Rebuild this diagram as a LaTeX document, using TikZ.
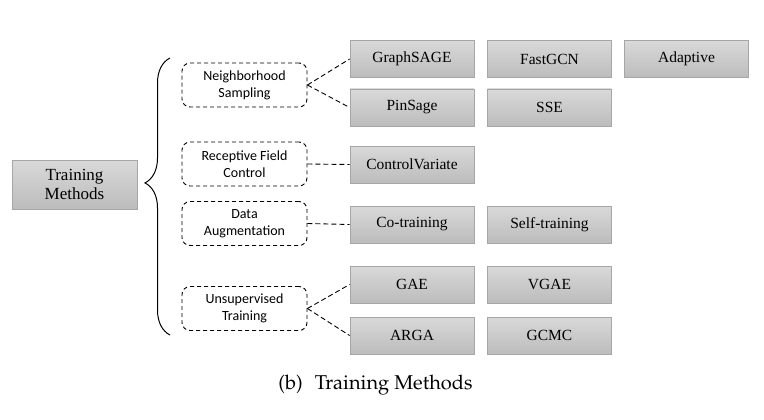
\documentclass[tikz,border=0pt]{standalone}
\usepackage{fontspec}
\setmainfont{Liberation Serif}
\newfontfamily\calibri{Carlito}
\usetikzlibrary{shapes,shadings}
\usetikzlibrary{decorations.pathreplacing,calc}
\definecolor{boxtop}{HTML}{D9D9D9}
\definecolor{boxbot}{HTML}{BCBCBC}
\definecolor{boxline}{HTML}{A6A6A6}
\tikzstyle{method}=[rectangle,draw=boxline,line width=0.8pt,top color=boxtop,bottom color=boxbot,minimum width=124pt,minimum height=37pt,inner sep=0pt,font=\fontsize{15.5}{18}\selectfont]
\tikzstyle{root}=[method,minimum width=125pt,minimum height=49pt,align=center,font=\fontsize{17}{19}\selectfont]
\tikzstyle{category}=[rectangle,rounded corners=8pt,draw,line width=0.9pt,dash pattern=on 4pt off 3pt,minimum width=125pt,minimum height=44pt,inner sep=0pt,align=center,font=\calibri\fontsize{14}{17}\selectfont]
\tikzstyle{link}=[line width=0.9pt,dash pattern=on 5pt off 3pt]

\begin{document}
\begin{tikzpicture}[x=1pt, y=-1pt]

    \useasboundingbox (0,0) rectangle (764,420);

    \node[root] (train) at (74.5,184.5) {Training\\Methods};

    % categories
    \foreach \pos/\name/\txt in {{(244.5,85)/ns/Neighborhood\\Sampling}, {(244.5,164)/rf/Receptive Field\\Control},
        {(244.5,223.5)/da/Data\\Augmentation}, {(244.5,308.5)/ut/Unsupervised\\Training}}
        \node[category] (\name) at \pos {\txt};

    % methods
    \foreach \pos/\name/\txt in {{(412,59)/graphsage/GraphSAGE}, {(549.5,59)/fastgcn/FastGCN}, {(686.5,59)/adaptive/Adaptive},
        {(412,107.5)/pinsage/PinSage}, {(549.5,107.5)/sse/SSE},
        {(412,164.5)/cv/ControlVariate},
        {(412,224.5)/cotrain/Co-training}, {(549.5,224.5)/selftrain/Self-training},
        {(412,284.5)/gae/GAE}, {(549.5,284.5)/vgae/VGAE},
        {(412,335.5)/arga/ARGA}, {(549.5,335.5)/gcmc/GCMC}}
        \node[method] (\name) at \pos {\txt};

    \foreach \a/\b in {ns/graphsage, ns/pinsage, rf/cv, da/cotrain, ut/gae, ut/arga}
        \draw[link] (\a.east) -- (\b.west);

    % brace
    \coordinate (btop) at (170,58);
    \coordinate (bbot) at (170,335);
    \draw[line width=1pt, decorate, decoration={brace, amplitude=25pt, aspect=0.549}] (bbot) -- (btop);

    \node[anchor=base, inner sep=0pt, font=\fontencoding{T1}\fontfamily{ppl}\fontsize{20}{24}\selectfont] (caption) at (375.5,389) {(b)\hspace{12pt}Training Methods};

\end{tikzpicture}
\end{document}
